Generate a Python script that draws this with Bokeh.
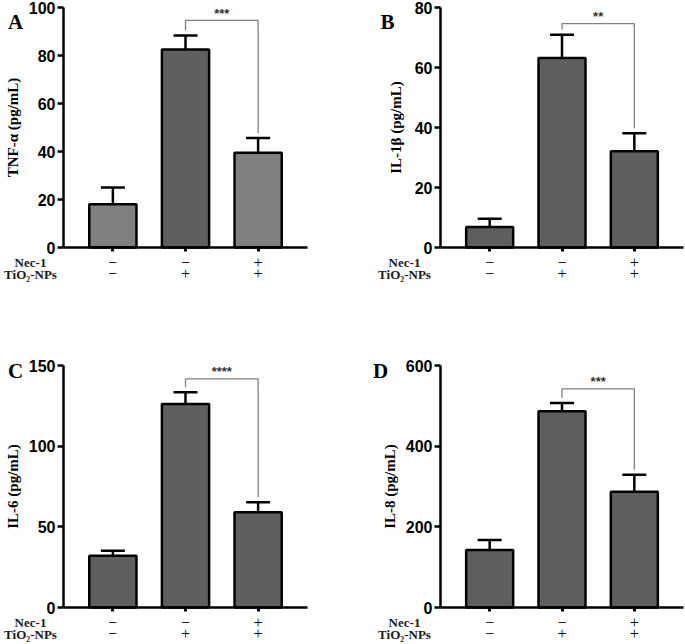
from bokeh.plotting import figure
from bokeh.layouts import row, column
from bokeh.models import (Range1d, FixedTicker, Whisker, TeeHead, Label,
                          ColumnDataSource, LinearAxis)
from bokeh.embed import file_html
from bokeh.resources import INLINE

# ---------------- data ----------------
groups = [1, 2, 3]
nec1_signs = ["\u2212", "\u2212", "+"]
tio2_signs = ["\u2212", "+", "+"]
row_names = ["Nec-1", "TiO\u2082-NPs"]

tnf_mean = [18.0, 82.5, 39.5]
tnf_err = [7.0, 5.8, 6.1]
il1b_mean = [6.8, 63.2, 32.1]
il1b_err = [2.8, 7.7, 6.0]
il6_mean = [32.1, 126.2, 59.0]
il6_err = [3.1, 7.2, 6.2]
il8_mean = [142.4, 486.6, 287.2]
il8_err = [24.9, 20.7, 42.2]

panel_letters = ["A", "B", "C", "D"]
y_labels = ["TNF-\u03b1 (pg/mL)", "IL-1\u03b2 (pg/mL)", "IL-6 (pg/mL)", "IL-8 (pg/mL)"]
y_max = [100, 80, 150, 600]
y_step = [20, 20, 50, 200]
bracket_y = [94.6, 74.6, 141.7, 542.0]
stars = ["***", "**", "****", "***"]

LIGHT = "#808080"
DARK = "#5f5f5f"
bar_colors = [
    [LIGHT, DARK, LIGHT],
    [DARK, DARK, DARK],
    [DARK, DARK, DARK],
    [DARK, DARK, DARK],
]

X0, X1 = 0.32, 3.68


def make_panel(i, means, errs, fig_w, fig_h, left, top, bottom, right,
               letter_dx, letter_dy, rowlab_dx, label_standoff):
    ymax = y_max[i]
    frame_h = fig_h - top - bottom
    frame_w = fig_w - left - right
    ppu_y = frame_h / ymax
    ppu_x = frame_w / (X1 - X0)

    # the plotting frame covers the whole figure; axes sit at fixed locations
    p = figure(width=fig_w, height=fig_h, output_backend="svg", toolbar_location=None,
               x_range=Range1d(X0 - left / ppu_x, X1 + right / ppu_x),
               y_range=Range1d(-bottom / ppu_y, ymax + top / ppu_y),
               x_axis_location=None, y_axis_location=None,
               min_border=0, background_fill_color="white", border_fill_color="white")
    p.outline_line_color = None
    p.grid.visible = False

    # bars
    p.vbar(x=groups, top=means, width=0.65, bottom=0,
           fill_color=bar_colors[i], line_color="black", line_width=2.5)

    # error bars (upper only)
    src = ColumnDataSource(dict(x=groups, lower=means,
                                upper=[m + e for m, e in zip(means, errs)]))
    wh = Whisker(base="x", lower="lower", upper="upper", source=src,
                 dimension="height", line_color="black", line_width=2.5,
                 upper_head=TeeHead(size=24, line_color="black", line_width=2.5),
                 lower_head=None, level="overlay")
    p.add_layout(wh)

    # significance bracket
    gap = 5 / ppu_y
    left_end = means[1] + errs[1] + gap
    right_end = means[2] + errs[2] + gap
    p.line(x=[groups[1], groups[1], groups[2], groups[2]],
           y=[left_end, bracket_y[i], bracket_y[i], right_end],
           line_color="#808080", line_width=1.3)
    p.add_layout(Label(x=(groups[1] + groups[2]) / 2, y=bracket_y[i] + 7 / ppu_y,
                       text=stars[i], text_align="center", text_baseline="middle",
                       text_font="Liberation Sans", text_font_style="bold",
                       text_font_size="13px", text_color="#333333"))

    # y axis
    ya = LinearAxis(fixed_location=X0, bounds=(0, ymax),
                    ticker=FixedTicker(ticks=list(range(0, ymax + 1, y_step[i]))))
    ya.major_tick_in = 0
    ya.major_tick_out = 6
    ya.major_tick_line_width = 2.5
    ya.minor_tick_line_color = None
    ya.axis_line_width = 2.5
    ya.axis_line_color = "black"
    ya.major_tick_line_color = "black"
    ya.major_label_text_font = "Liberation Sans"
    ya.major_label_text_font_style = "bold"
    ya.major_label_text_font_size = "16px"
    ya.major_label_text_color = "black"
    ya.major_label_standoff = 2
    ya.axis_label = y_labels[i]
    ya.axis_label_text_font = "Liberation Serif"
    ya.axis_label_text_font_style = "bold"
    ya.axis_label_text_font_size = "15px"
    ya.axis_label_text_color = "black"
    ya.axis_label_standoff = label_standoff
    p.add_layout(ya, "left")

    # x axis (line, ticks and first treatment row)
    xa = LinearAxis(fixed_location=0, bounds=(X0, X1), ticker=FixedTicker(ticks=groups),
                    major_label_overrides={g: s for g, s in zip(groups, nec1_signs)})
    xa.major_tick_in = 0
    xa.major_tick_out = 4
    xa.major_tick_line_width = 3
    xa.minor_tick_line_color = None
    xa.axis_line_width = 2.5
    xa.axis_line_color = "black"
    xa.major_tick_line_color = "black"
    xa.major_label_standoff = 5
    xa.major_label_text_font = "Liberation Serif"
    xa.major_label_text_font_size = "16px"
    xa.major_label_text_color = "black"
    p.add_layout(xa, "below")

    # second treatment row
    xb = LinearAxis(fixed_location=0, bounds=(X0, X1), ticker=FixedTicker(ticks=groups),
                    major_label_overrides={g: s for g, s in zip(groups, tio2_signs)})
    xb.axis_line_color = None
    xb.major_tick_line_color = None
    xb.minor_tick_line_color = None
    xb.major_tick_in = 0
    xb.major_tick_out = 0
    xb.major_label_standoff = 20
    xb.major_label_text_font = "Liberation Serif"
    xb.major_label_text_font_size = "16px"
    xb.major_label_text_color = "black"
    p.add_layout(xb, "below")

    # panel letter
    p.add_layout(Label(x=X0 - letter_dx / ppu_x, y=ymax - letter_dy / ppu_y,
                       text=panel_letters[i], text_align="center", text_baseline="middle",
                       text_font="Liberation Serif", text_font_style="bold",
                       text_font_size="21px", text_color="black"))

    # row names
    for r in range(2):
        yy = -(15 + 11.5 * r) / ppu_y
        p.add_layout(Label(x=X0 - rowlab_dx / ppu_x, y=yy, text=row_names[r],
                           text_align="center", text_baseline="middle",
                           text_font="Liberation Serif", text_font_style="bold",
                           text_font_size="13px", text_color="#1a1a1a"))
    return p


pA = make_panel(0, tnf_mean, tnf_err, 340, 320, 63, 7, 73, 33, 48, 14, 33, 5)
pB = make_panel(1, il1b_mean, il1b_err, 344, 320, 100, 7, 73, 1, 53, 14, 36, 8)
pC = make_panel(2, il6_mean, il6_err, 340, 323, 63, 45, 36, 33, 48, 5, 33, 5)
pD = make_panel(3, il8_mean, il8_err, 344, 323, 100, 45, 36, 1, 60, 5, 36, 5)

layout = column(row(pA, pB), row(pC, pD))

open("out.html", "w").write(file_html(layout, INLINE))
